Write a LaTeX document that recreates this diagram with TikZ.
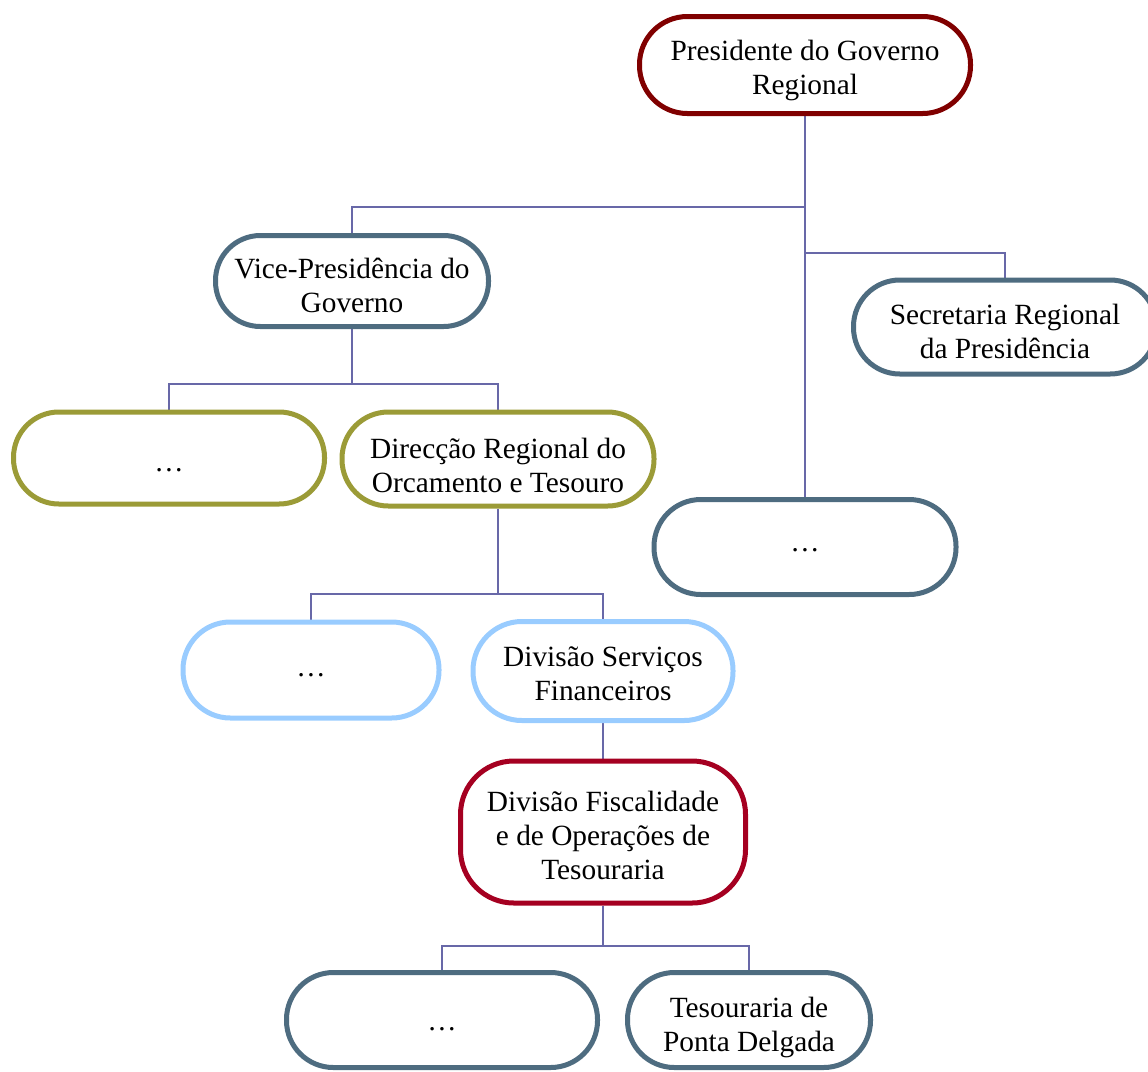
\documentclass[tikz,border=0pt]{standalone}
\usepackage{fontspec}
\setmainfont{Liberation Serif}
\usetikzlibrary{backgrounds}
\definecolor{cdarkred}{RGB}{128,0,0}
\definecolor{cslate}{RGB}{78,108,128}
\definecolor{colive}{RGB}{155,155,55}
\definecolor{clight}{RGB}{153,204,255}
\definecolor{ccrimson}{RGB}{165,0,33}
\definecolor{clink}{RGB}{104,104,168}
\begin{document}
\begin{tikzpicture}[x=0.75pt,y=-0.75pt,
  box/.style={draw, line width=3.75pt, fill=white, inner sep=0pt},
  txt/.style={inner sep=0pt, align=center, font=\fontsize{22}{25.5}\selectfont},
  sz/.style 2 args={minimum width=#1*0.75pt, minimum height=#2*0.75pt, rounded corners=#2*0.37pt},
  lbl/.style 2 args={label={[txt, yshift=-#1*0.75pt]center:#2}},
  conn/.style={draw=clink, line width=1.3pt}]
\useasboundingbox (0,0) rectangle (1148,1071);
\clip (0,0) rectangle (1148,1071);
\node[box, draw=cdarkred, sz={331}{97}, lbl={5}{Presidente do Governo\\Regional}] (pres) at (805,65) {};
\node[box, draw=cslate, sz={273}{91}, lbl={4}{Vice-Presidência do\\Governo}] (vice) at (352,281) {};
\node[box, draw=cslate, sz={303}{94}, lbl={4}{Secretaria Regional\\da Presidência}] (sec) at (1005,327) {};
\node[box, draw=colive, sz={311}{92}, lbl={12}{…}] (dotsa) at (169,458) {};
\node[box, draw=colive, sz={312}{94}, lbl={6}{Direcção Regional do\\Orcamento e Tesouro}] (dir) at (498,459) {};
\node[box, draw=cslate, sz={302}{95}, lbl={3}{…}] (dotsb) at (805,547) {};
\node[box, draw=clight, sz={256}{96}, lbl={5}{…}] (dotsc) at (311,670) {};
\node[box, draw=clight, sz={260}{99}, lbl={3}{Divisão Serviços\\Financeiros}] (serv) at (603,671) {};
\node[box, draw=ccrimson, sz={285}{142}, rounded corners=40pt, lbl={3}{Divisão Fiscalidade\\e de Operações de\\Tesouraria}] (fisc) at (603,832) {};
\node[box, draw=cslate, sz={311}{95}, lbl={9}{…}] (dotsd) at (442,1020) {};
\node[box, draw=cslate, sz={243}{95}, lbl={7}{Tesouraria de\\Ponta Delgada}] (tes) at (749,1020) {};
\coordinate (j1) at (805,207);
\coordinate (j2) at (805,253);
\coordinate (j3) at (352,384);
\coordinate (j4) at (498,594);
\coordinate (j5) at (603,946);
\begin{scope}[on background layer]
\draw[conn] (pres.south) -- (dotsb.north);
\draw[conn] (j1) -| (vice.north);
\draw[conn] (j2) -| (sec.north);
\draw[conn] (vice.south) -- (j3);
\draw[conn] (j3) -| (dotsa.north);
\draw[conn] (j3) -| (dir.north);
\draw[conn] (dir.south) -- (j4);
\draw[conn] (j4) -| (dotsc.north);
\draw[conn] (j4) -| (serv.north);
\draw[conn] (serv.south) -- (fisc.north);
\draw[conn] (fisc.south) -- (j5);
\draw[conn] (j5) -| (dotsd.north);
\draw[conn] (j5) -| (tes.north);
\end{scope}
\end{tikzpicture}
\end{document}
